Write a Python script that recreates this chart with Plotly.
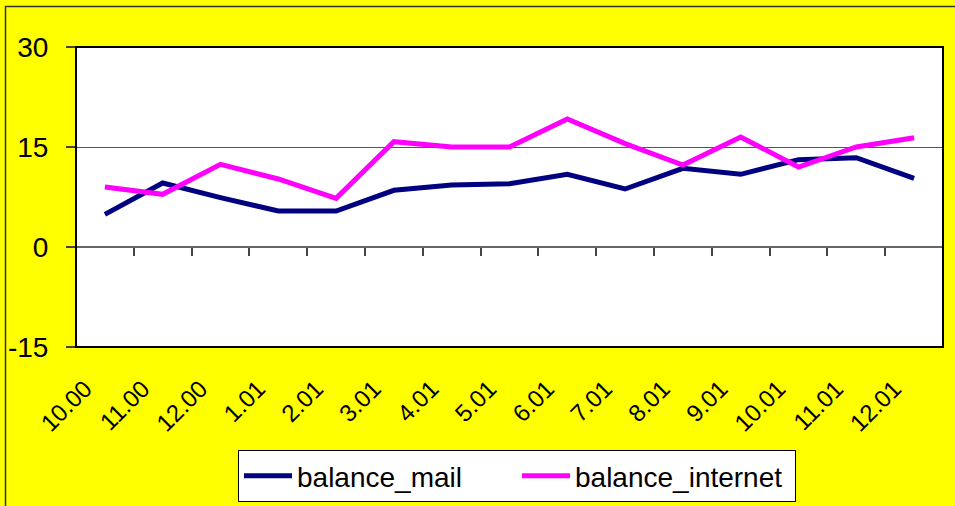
import plotly.graph_objects as go

categories = ["10.00", "11.00", "12.00", "1.01", "2.01", "3.01", "4.01", "5.01",
              "6.01", "7.01", "8.01", "9.01", "10.01", "11.01", "12.01"]
balance_mail = [4.9, 9.6, 7.4, 5.4, 5.4, 8.5, 9.3, 9.5, 10.9, 8.7, 11.8, 10.9, 13.1, 13.4, 10.3]
balance_internet = [9.0, 7.9, 12.4, 10.2, 7.3, 15.8, 15.0, 15.0, 19.2, 15.5, 12.3, 16.5, 12.0, 15.0, 16.4]
y_ticks = [-15, 0, 15, 30]

FONT = "Arial, Liberation Sans, sans-serif"
W, H = 955, 506
L, R, T, B = 76, 12, 47, 159
pw = W - L - R
ph = H - T - B


def px_x(px):
    return (px - L) / pw


def px_y(py):
    return (H - B - py) / ph


fig = go.Figure()
fig.add_trace(go.Scatter(x=categories, y=balance_mail, mode="lines", name="balance_mail",
                         line=dict(color="#000080", width=5)))
fig.add_trace(go.Scatter(x=categories, y=balance_internet, mode="lines", name="balance_internet",
                         line=dict(color="#FF00FF", width=5)))
# invisible helper trace for the category axis drawn at y = 0
fig.add_trace(go.Scatter(x=categories, y=balance_mail, xaxis="x2", mode="lines",
                         line=dict(width=0), opacity=0, showlegend=False, hoverinfo="skip"))

fig.update_layout(
    width=W, height=H,
    margin=dict(l=L, r=R, t=T, b=B, pad=0, autoexpand=False),
    paper_bgcolor="#FFFF00",
    plot_bgcolor="#FFFFFF",
    font=dict(family=FONT, color="black"),
    showlegend=True,
    legend=dict(orientation="h", x=px_x(517), xanchor="center", y=px_y(450), yanchor="top",
                bgcolor="white", bordercolor="black", borderwidth=1,
                entrywidth=215, entrywidthmode="pixels", itemwidth=48,
                font=dict(size=28, family=FONT, color="black")),
    xaxis=dict(type="category", categoryorder="array", categoryarray=categories,
               range=[-0.5, len(categories) - 0.5], showgrid=False, zeroline=False,
               showline=False, ticks="", tickangle=-45, automargin=False,
               tickfont=dict(size=24, family=FONT, color="black"),
               ticklabelstandoff=22, ticklabelshift=-20),
    xaxis2=dict(type="category", categoryorder="array", categoryarray=categories,
                overlaying="x", matches="x", anchor="free", position=1/3, side="bottom",
                showgrid=False, zeroline=False, showline=True, linecolor="#666666", linewidth=1.5,
                ticks="outside", tickson="boundaries", ticklen=8, tickcolor="#444444",
                tickwidth=1.5, showticklabels=False),
    yaxis=dict(range=[-15, 30], tickvals=y_ticks, ticktext=[str(v) for v in y_ticks],
               showgrid=True, gridcolor="#555555", gridwidth=1, zeroline=False, automargin=False,
               showline=False, ticks="outside", ticklen=9, tickcolor="#444444", tickwidth=1.5,
               ticklabelstandoff=12,
               tickfont=dict(size=28, family=FONT, color="black")),
    shapes=[
        dict(type="rect", xref="paper", yref="paper", x0=0, x1=1, y0=0, y1=1,
             line=dict(color="black", width=2), fillcolor="rgba(0,0,0,0)", layer="above"),
        dict(type="rect", xref="paper", yref="paper", x0=px_x(5.5), x1=px_x(980),
             y0=px_y(530), y1=px_y(6.5),
             line=dict(color="#333333", width=1.5), fillcolor="rgba(0,0,0,0)", layer="above"),
    ],
)

fig.write_html("out.html", config={"displayModeBar": False},
               post_script="document.body.style.margin='0px';")
